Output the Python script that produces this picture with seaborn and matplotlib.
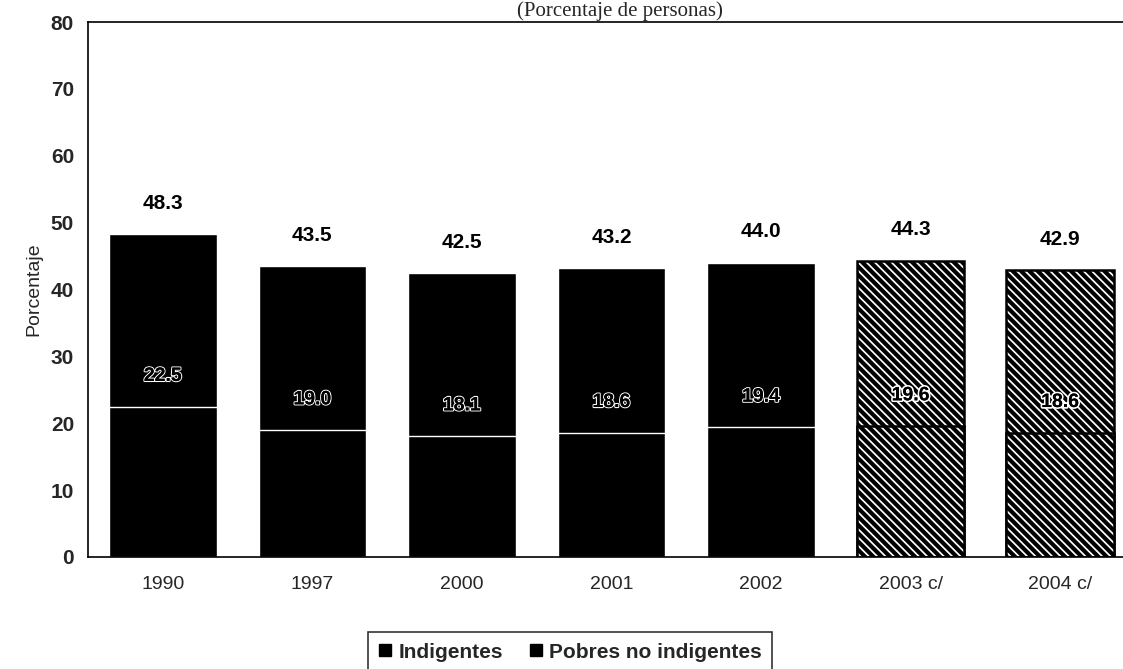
import matplotlib
matplotlib.use("Agg")
import matplotlib.pyplot as plt
import matplotlib.patheffects as pe
from matplotlib.lines import Line2D
import seaborn as sns
import pandas as pd

years = ["1990", "1997", "2000", "2001", "2002", "2003 c/", "2004 c/"]
total_pobres = [48.3, 43.5, 42.5, 43.2, 44.0, 44.3, 42.9]
indigentes = [22.5, 19.0, 18.1, 18.6, 19.4, 19.6, 18.6]
hatched = [False, False, False, False, False, True, True]

sns.set_style("white")
plt.rcParams['font.family'] = ['Liberation Sans', 'DejaVu Sans']
plt.rcParams['hatch.linewidth'] = 3.0

df = pd.DataFrame({"year": years, "total": total_pobres, "ind": indigentes})

fig = plt.figure(figsize=(11.23, 6.69), dpi=100)
ax = fig.add_axes([88/1123, 1 - 557/669, (1135-88)/1123, (557-22)/669])

sns.barplot(data=df, x="year", y="total", color="black", width=0.72,
            saturation=1, ax=ax, edgecolor="white", linewidth=1)
n = len(years)
sns.barplot(data=df, x="year", y="ind", color="black", width=0.72,
            saturation=1, ax=ax, edgecolor="white", linewidth=1)

for i, p in enumerate(ax.patches):
    k = i % n
    if hatched[k]:
        p.set_facecolor("white")
        p.set_edgecolor("black")
        p.set_hatch("\\" * 4)
        p.set_linewidth(1.8)

for k in range(n):
    ax.text(k, total_pobres[k] + 4.6, f"{total_pobres[k]:.1f}", ha="center", va="center",
            fontsize=15, fontweight="bold", color="black")
    if hatched[k]:
        ax.text(k, indigentes[k] + 4.5, f"{indigentes[k]:.1f}", ha="center", va="center",
                fontsize=14, fontweight="bold", color="black",
                path_effects=[pe.withStroke(linewidth=2.5, foreground="white"),
                              pe.Normal()])
    else:
        ax.text(k, indigentes[k] + 4.5, f"{indigentes[k]:.1f}", ha="center", va="center",
                fontsize=14, fontweight="bold", color="black",
                path_effects=[pe.withStroke(linewidth=1.6, foreground="white"),
                              pe.Normal()])

ax.set_ylim(0, 80)
ax.set_xlim(-0.5, n - 0.5)
ax.set_yticks(range(0, 81, 10))
ax.set_yticklabels([str(v) for v in range(0, 81, 10)], fontsize=15, fontweight="bold")
ax.set_xticks(range(n))
ax.set_xticklabels(years, fontsize=14)
ax.tick_params(axis="x", length=0, pad=14)
ax.set_xticks([k + 0.5 for k in range(n - 1)], minor=True)
ax.tick_params(axis="x", which="minor", direction="out", length=6, width=1, color="black")
ax.tick_params(axis="y", direction="out", length=6, width=1, color="black", pad=4)
ax.set_xlabel("")
ax.set_ylabel("Porcentaje", fontsize=14, labelpad=6)

for s in ["left", "bottom", "top"]:
    ax.spines[s].set_visible(True)
    ax.spines[s].set_color("black")
    ax.spines[s].set_linewidth(1.2)
ax.spines["right"].set_visible(False)

fig.text(620/1123, 1 - 1/669, "(Porcentaje de personas)", ha="center", va="top",
         fontsize=15, family=["Liberation Serif", "DejaVu Serif"])

handles = [Line2D([], [], marker="s", color="black", linestyle="", markersize=8),
           Line2D([], [], marker="s", color="black", linestyle="", markersize=8)]
leg = fig.legend(handles, ["Indigentes", "Pobres no indigentes"], loc="center",
                 bbox_to_anchor=(570/1123, 1 - 652/669), ncol=2, frameon=True,
                 fancybox=False, edgecolor="black",
                 prop={"size": 15, "weight": "bold"}, handlelength=0.7,
                 handletextpad=0.3, columnspacing=1.2, borderpad=0.5)
leg.get_frame().set_linewidth(1.2)

fig.savefig("out.png", dpi=100)
